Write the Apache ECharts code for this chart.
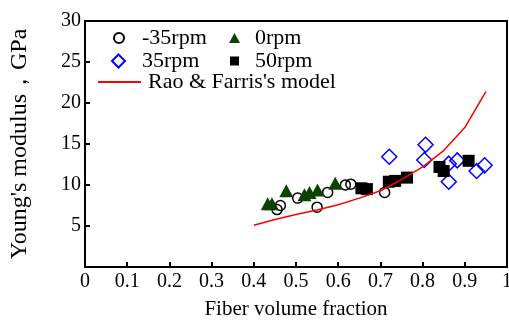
<!DOCTYPE html>
<html>
<head>
<meta charset="utf-8">
<script src="https://cdn.jsdelivr.net/npm/echarts@6/dist/echarts.min.js"></script>
<style>
  html, body { margin: 0; padding: 0; background: #fff; }
  #chart { width: 509px; height: 325px; }
</style>
</head>
<body>
<div id="chart"></div>
<script>
// data
const seriesNames = ["-35rpm", "0rpm", "35rpm", "50rpm", "Rao & Farris's model"];

const minus35X = [0.455, 0.463, 0.504, 0.55, 0.575, 0.617, 0.63, 0.71];
const minus35Y = [7.0, 7.5, 8.4, 7.3, 9.1, 10.0, 10.1, 9.1];

const zeroX = [0.433, 0.443, 0.477, 0.52, 0.532, 0.551, 0.593];
const zeroY = [7.7, 7.7, 9.3, 8.8, 9.1, 9.4, 10.2];

const plus35X = [0.721, 0.807, 0.804, 0.862, 0.882, 0.862, 0.928, 0.947];
const plus35Y = [13.45, 14.9, 13.05, 12.6, 13.0, 10.4, 11.7, 12.4];

const plus50X = [0.655, 0.668, 0.72, 0.735, 0.763, 0.84, 0.85, 0.909];
const plus50Y = [9.6, 9.5, 10.4, 10.5, 10.9, 12.2, 11.7, 12.95];

const modelX = [0.40, 0.45, 0.50, 0.55, 0.60, 0.65, 0.70, 0.75, 0.80, 0.85, 0.90, 0.95];
const modelY = [5.1, 5.8, 6.4, 6.95, 7.6, 8.4, 9.3, 10.65, 12.2, 14.2, 17.0, 21.4];

const xTickLabels = ["0", "0.1", "0.2", "0.3", "0.4", "0.5", "0.6", "0.7", "0.8", "0.9", "1"];

const FONT = "'Liberation Serif', 'Times New Roman', serif";

function zip(xs, ys) {
  return xs.map((x, i) => [x, ys[i]]);
}

// one legend per entry so each can sit where the reference has it
function legendAt(name, left, top, w, h, textPad) {
  return {
    data: [name],
    left: left,
    top: top,
    padding: 0,
    orient: "horizontal",
    itemWidth: w,
    itemHeight: h,
    symbolKeepAspect: true,
    selectedMode: false,
    textStyle: {
      fontFamily: FONT,
      fontSize: 22,
      color: "#000",
      lineHeight: 24,
      padding: [0, 0, 0, textPad],
    },
  };
}

const chart = echarts.init(document.getElementById("chart"));

chart.setOption({
  animation: false,
  backgroundColor: "#fff",
  grid: {
    left: 85,
    right: 2,
    top: 21,
    bottom: 58,
    outerBoundsMode: "none",
    show: true,
    borderColor: "#000",
    borderWidth: 2,
  },
  legend: [
    legendAt(seriesNames[0], 113, 26, 10, 10, 13),
    legendAt(seriesNames[1], 229, 26, 11, 10, 10),
    legendAt(seriesNames[2], 111, 49, 13, 13, 12),
    legendAt(seriesNames[3], 230, 49, 9, 9, 11),
    legendAt(seriesNames[4], 97, 70, 43, 2, 2),
  ],
  xAxis: {
    type: "value",
    min: 0,
    max: 1,
    interval: 0.1,
    name: "Fiber volume fraction",
    nameLocation: "middle",
    nameGap: 32,
    nameTextStyle: { fontFamily: FONT, fontSize: 21, color: "#000" },
    axisLine: { lineStyle: { color: "#000", width: 2 } },
    axisTick: { inside: true, length: 5, lineStyle: { color: "#000", width: 2 } },
    axisLabel: {
      fontFamily: FONT,
      fontSize: 20,
      color: "#000",
      margin: 5,
      formatter: (v) => xTickLabels[Math.round(v * 10)],
    },
    splitLine: { show: false },
  },
  yAxis: {
    type: "value",
    min: 0,
    max: 30,
    interval: 5,
    name: "Young's modulus，GPa",
    nameLocation: "middle",
    nameGap: 53,
    nameTextStyle: { fontFamily: FONT, fontSize: 24, color: "#000" },
    axisLine: { lineStyle: { color: "#000", width: 2 } },
    axisTick: { inside: true, length: 5, lineStyle: { color: "#000", width: 2 } },
    axisLabel: {
      fontFamily: FONT,
      fontSize: 20,
      color: "#000",
      margin: 4,
      showMinLabel: false,
    },
    splitLine: { show: false },
  },
  series: [
    {
      name: seriesNames[0],
      type: "scatter",
      symbol: "circle",
      symbolSize: 10,
      itemStyle: { color: "rgba(255,255,255,0)", borderColor: "#000", borderWidth: 1.5, opacity: 1 },
      data: zip(minus35X, minus35Y),
      z: 2,
    },
    {
      name: seriesNames[1],
      type: "scatter",
      symbol: "triangle",
      symbolSize: [14, 13],
      itemStyle: { color: "#0d4205", opacity: 1 },
      data: zip(zeroX, zeroY),
      z: 3,
    },
    {
      name: seriesNames[2],
      type: "scatter",
      symbol: "diamond",
      symbolSize: 15,
      itemStyle: { color: "rgba(255,255,255,0)", borderColor: "#0000ff", borderWidth: 1.5, opacity: 1 },
      data: zip(plus35X, plus35Y),
      z: 3,
    },
    {
      name: seriesNames[3],
      type: "scatter",
      symbol: "rect",
      symbolSize: 12,
      itemStyle: { color: "#000", opacity: 1 },
      data: zip(plus50X, plus50Y),
      z: 4,
    },
    {
      name: seriesNames[4],
      type: "line",
      symbol: "none",
      showSymbol: false,
      lineStyle: { color: "#ff0000", width: 1.5 },
      itemStyle: { color: "#ff0000" },
      data: zip(modelX, modelY),
      z: 5,
    },
  ],
});
</script>
</body>
</html>
